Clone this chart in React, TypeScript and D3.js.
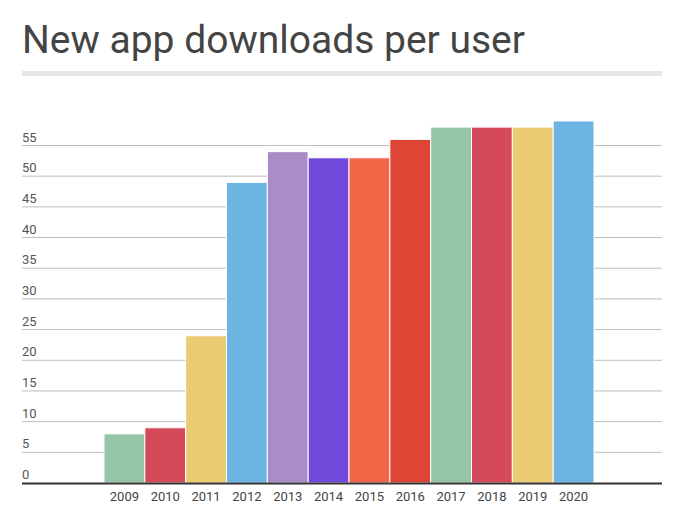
import React from "react";
import * as d3 from "d3";

const years = ["2009", "2010", "2011", "2012", "2013", "2014", "2015", "2016", "2017", "2018", "2019", "2020"];
const downloads = [8, 9, 24, 49, 54, 53, 53, 56, 58, 58, 58, 59];
const barColors = ["#95c5a7", "#d44a5b", "#eacb72", "#6cb5e2", "#aa8dc7", "#6f4adb", "#f26446", "#dd4534", "#95c5a7", "#d44a5b", "#eacb72", "#6cb5e2"];
const yTicks = [0, 5, 10, 15, 20, 25, 30, 35, 40, 45, 50, 55];
const title = "New app downloads per user";

export default function App() {
  const W = 679, H = 526;
  const left = 22, right = 662;
  const y = d3.scaleLinear().domain([0, 55]).range([483, 145.5]);
  const x = d3.scaleBand<string>().domain(years).range([104, 594]).padding(0);
  const font = "Roboto, 'Noto Sans', sans-serif";
  return (
    <svg width={W} height={H} style={{ position: "absolute", left: 0, top: 0, background: "#fff" }}>
      <text x={22} y={53} fontFamily={font} fontSize={39} fill="#444">{title}</text>
      <rect x={left} y={71} width={right - left} height={5} fill="#e6e6e6" />
      {yTicks.map((t) => (
        <g key={t}>
          {t > 0 && <line x1={left} x2={right} y1={y(t)} y2={y(t)} stroke="#bdbdbd" strokeWidth={1} />}
          <text x={left} y={y(t) - 4} fontFamily={font} fontSize={13} fill="#555">{t}</text>
        </g>
      ))}
      {years.map((yr, i) => (
        <rect
          key={yr}
          x={x(yr)!}
          y={y(downloads[i])}
          width={x.bandwidth()}
          height={y(0) - y(downloads[i])}
          fill={barColors[i]}
          stroke="#fff"
          strokeWidth={1}
        />
      ))}
      <line x1={left} x2={right} y1={y(0) + 0.5} y2={y(0) + 0.5} stroke="#333" strokeWidth={2} />
      {years.map((yr) => (
        <text key={yr} x={x(yr)! + x.bandwidth() / 2} y={501} textAnchor="middle" fontFamily={font} fontSize={13} fill="#444">{yr}</text>
      ))}
    </svg>
  );
}
